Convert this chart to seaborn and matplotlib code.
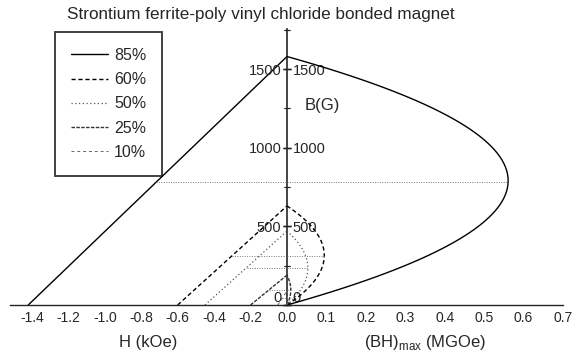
import numpy as np
import pandas as pd
import matplotlib
matplotlib.use("Agg")
import matplotlib.pyplot as plt
from matplotlib.ticker import MultipleLocator
import seaborn as sns

# fraction of ferrite in the bonded magnet and the demag line end points
fractions = ["85%", "60%", "50%", "25%", "10%"]
hc_koe = [-1.42, -0.60, -0.45, -0.20, -0.05]   # coercivity (B = 0)
br_gauss = [1580, 630, 470, 190, 90]           # remanence (H = 0)

styles = [
    dict(color="black", linestyle="-", linewidth=1.0),
    dict(color="black", linestyle=(0, (3, 2)), linewidth=1.0),
    dict(color="#555555", linestyle=(0, (1, 2)), linewidth=0.9),
    dict(color="#333333", linestyle=(0, (2.5, 1)), linewidth=1.0),
    dict(color="#666666", linestyle=(0, (3, 3)), linewidth=0.7),
]

sns.set_style("white")
plt.rcParams["font.family"] = ["Liberation Sans", "DejaVu Sans"]
plt.rcParams["axes.unicode_minus"] = False
plt.rcParams["mathtext.fontset"] = "custom"
plt.rcParams["mathtext.rm"] = "Liberation Sans"

fig = plt.figure(figsize=(5.74, 3.6), dpi=100)
W, H = 574, 360
y0, y1 = 305, 29
axL = fig.add_axes([10 / W, (H - y0) / H, (287 - 10) / W, (y0 - y1) / H])
axR = fig.add_axes([287 / W, (H - y0) / H, (563 - 287) / W, (y0 - y1) / H])

rows = []
for name, hc, br in zip(fractions, hc_koe, br_gauss):
    b = np.linspace(0, br, 80)
    h = hc * (1 - b / br)
    # energy product B*H in MGOe (B in G, H in kOe)
    rows.append(pd.DataFrame({"name": name, "B": b, "H": h, "BH": -h * b / 1000}))
df = pd.concat(rows, ignore_index=True)

handles = []
for name, hc, br, st in zip(fractions, hc_koe, br_gauss, styles):
    d = df[df["name"] == name]
    sns.lineplot(data=d, x="H", y="B", ax=axL, sort=False, estimator=None,
                 clip_on=False, **st)
    sns.lineplot(data=d, x="BH", y="B", ax=axR, sort=False, estimator=None,
                 clip_on=False, **st)
    handles.append(axL.get_lines()[-1])
    # dotted line through the (BH)max point
    pk = d.loc[d["BH"].idxmax()]
    axL.plot([pk["H"], 0], [pk["B"], pk["B"]], color="#777777",
             linestyle=(0, (1, 1.5)), linewidth=0.7)
    axR.plot([0, pk["BH"]], [pk["B"], pk["B"]], color="#777777",
             linestyle=(0, (1, 1.5)), linewidth=0.7)

for ax in (axL, axR):
    ax.set_ylim(0, 1755)
    ax.set_xlabel("")
    ax.set_ylabel("")
    ax.set_facecolor("none")
    for s in ax.spines.values():
        s.set_visible(False)
    ax.spines["bottom"].set_visible(True)
    ax.spines["bottom"].set_linewidth(1.0)
    ax.yaxis.set_major_locator(MultipleLocator(500))
    ax.yaxis.set_minor_locator(MultipleLocator(250))
    ax.tick_params(axis="x", which="major", direction="in", length=4, width=1,
                   labelsize=10, pad=4)
    ax.tick_params(axis="x", which="minor", direction="in", length=2, width=0.8)
    ax.tick_params(axis="y", which="major", direction="inout", length=6, width=1,
                   labelsize=10.5, pad=1)
    ax.tick_params(axis="y", which="minor", direction="inout", length=4, width=0.8)

axL.set_xlim(-1.52, 0)
axL.xaxis.set_minor_locator(MultipleLocator(0.1))
axL.spines["right"].set_visible(True)
axL.spines["right"].set_linewidth(1.2)
axL.yaxis.tick_right()
axL.tick_params(axis="y", which="both", labelright=True, labelleft=False)
left_ticks = np.round(np.arange(-1.4, 0.01, 0.2), 1)
axL.set_xticks(left_ticks)
axL.set_xticklabels([f"{abs(v):.1f}" if v == 0 else f"{v:.1f}" for v in left_ticks])

axR.set_xlim(0, 0.7)
axR.xaxis.set_minor_locator(MultipleLocator(0.05))
right_ticks = np.round(np.arange(0.1, 0.71, 0.1), 1)
axR.set_xticks(right_ticks)
axR.set_xticklabels([f"{v:.1f}" for v in right_ticks])
axR.tick_params(axis="y", which="both", left=True, labelleft=True)

# the "0" labels at the origin sit on the axis line, as in the source figure
for ax in (axL, axR):
    for lbl in ax.get_yticklabels():
        if lbl.get_text() in ("0", "\u22120"):
            lbl.set_va("bottom")

fig.text(67 / W, 1 - 15 / H, "Strontium ferrite-poly vinyl chloride bonded magnet",
         fontsize=12.3, ha="left", va="center")
fig.text(148 / W, 1 - 343 / H, "H (kOe)", fontsize=12, ha="center", va="center")
fig.text(425 / W, 1 - 343 / H, r"(BH)$_{\mathrm{max}}$ (MGOe)", fontsize=12,
         ha="center", va="center")
fig.text(322 / W, 1 - 105 / H, "B(G)", fontsize=12, ha="center", va="center")

leg = fig.legend(handles, fractions, loc="upper left",
                 bbox_to_anchor=(55 / W, 1 - 32 / H), borderaxespad=0,
                 fontsize=11.5, frameon=True, fancybox=False, handlelength=2.3,
                 labelspacing=0.58, borderpad=1.0, handletextpad=0.4)
leg.get_frame().set_edgecolor("black")
leg.get_frame().set_linewidth(1.3)

fig.savefig("out.png", dpi=100)
